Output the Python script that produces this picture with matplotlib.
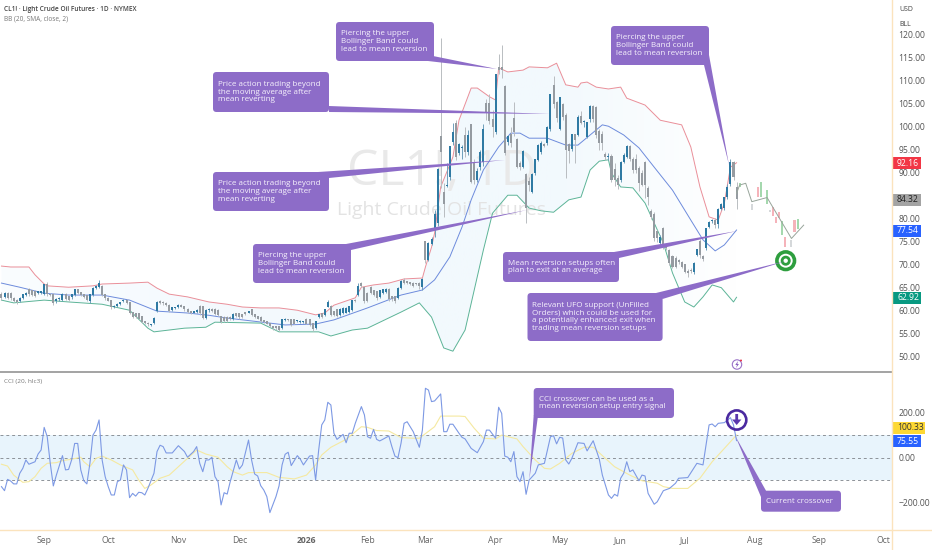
import numpy as np
import matplotlib
matplotlib.use("Agg")
import matplotlib.pyplot as plt
from matplotlib.colors import LinearSegmentedColormap
from matplotlib.patches import Circle, FancyBboxPatch, Polygon, Rectangle

plt.rcParams['font.family'] = ['Open Sans', 'DejaVu Sans']

# candles, bar 0 = late Aug 2025, one row is 10 bars
opens = [
    63.6,63.0,63.8,63.8,62.7,62.3,62.0,62.7,63.4,64.6,
    64.3,64.1,63.8,63.9,63.6,65.6,63.6,63.6,62.0,62.5,
    62.3,63.6,63.0,62.9,63.4,64.5,63.9,63.4,63.2,62.0,
    63.4,64.9,65.2,65.2,63.4,62.7,62.2,60.7,61.0,61.4,
    62.0,62.3,61.7,59.6,59.3,59.3,58.7,57.6,57.3,56.9,
    57.4,60.0,62.0,61.7,61.6,61.2,60.1,60.5,60.7,61.2,
    60.9,60.3,59.8,59.6,59.8,61.0,60.9,58.5,60.1,60.3,
    60.3,60.1,58.7,58.6,58.6,58.6,58.1,59.4,59.3,59.1,
    59.6,59.6,60.2,59.1,58.7,58.6,57.8,57.6,57.2,56.5,
    56.5,56.5,56.2,58.0,58.1,58.1,58.0,57.8,57.6,57.6,
    58.1,58.1,57.2,56.2,58.6,59.3,59.1,60.9,60.9,59.8,
    60.2,59.1,59.4,59.6,59.8,60.2,62.3,63.4,65.8,65.1,
    63.8,65.1,64.4,64.1,62.9,63.9,64.1,64.6,63.1,63.1,
    62.7,64.9,66.5,66.3,66.1,66.0,65.9,66.0,65.1,75.0,
    71.0,74.6,77.5,79.0,97.8,85.7,87.0,89.1,96.7,100.7,
    94.2,95.3,98.0,94.6,100.4,92.2,88.4,91.3,92.4,105.0,
    105.0,101.5,98.9,112.9,112.9,108.7,96.6,98.2,101.8,97.1,
    92.0,91.3,89.7,88.0,85.7,89.9,92.8,94.4,96.2,96.4,
    99.6,109.0,105.2,99.6,104.9,102.5,96.2,95.1,98.2,98.2,
    102.2,101.0,97.8,101.6,104.4,104.2,98.9,98.2,94.0,93.5,
    93.5,90.6,88.8,88.4,92.4,93.5,95.7,92.9,92.8,91.0,
    89.9,92.2,86.6,81.6,81.0,77.2,74.7,77.9,74.0,73.1,
    71.8,71.4,70.8,70.5,70.0,68.5,68.7,68.4,72.1,75.0,
    71.8,73.6,78.1,79.4,79.7,78.9,82.0,82.3,84.7,87.6,
    92.3,86.8,
]
closes = [
    62.7,63.8,62.7,62.7,62.0,61.8,62.7,63.4,63.8,63.6,
    63.4,63.2,64.1,64.1,65.6,63.6,63.4,61.6,62.5,62.7,
    63.6,62.5,62.3,63.4,64.5,63.9,63.4,63.0,62.3,63.4,
    64.9,65.2,65.9,63.4,62.7,62.2,60.7,61.0,61.4,61.7,
    62.3,61.7,59.4,58.7,58.7,58.3,57.6,57.3,57.0,57.0,
    58.3,61.7,61.7,61.6,61.2,60.0,60.7,60.7,61.2,60.9,
    60.3,59.8,59.6,59.8,60.1,59.4,58.5,60.1,60.3,60.0,
    59.3,59.1,57.6,57.8,57.8,58.1,59.2,58.9,58.6,58.7,
    59.3,59.8,59.1,58.7,58.3,57.8,57.6,57.2,56.7,56.2,
    56.2,55.8,58.0,58.1,58.0,56.9,57.2,57.8,57.7,57.6,
    57.2,56.9,56.0,57.6,59.1,58.7,60.2,61.8,59.1,59.0,
    58.9,60.3,60.5,60.5,60.9,62.2,62.1,65.2,65.4,62.0,
    62.0,63.8,63.4,62.7,64.4,64.5,64.6,62.5,62.5,62.0,
    64.9,66.3,66.0,66.0,65.8,65.4,65.7,65.4,66.8,71.0,
    74.6,75.5,80.8,90.7,94.6,83.3,87.2,95.7,98.7,93.5,
    96.2,95.4,94.6,98.1,88.0,88.4,90.2,94.4,99.4,103.0,
    101.3,100.0,111.4,112.3,112.3,94.2,97.8,96.4,98.9,91.3,
    91.2,94.7,82.3,87.3,89.5,92.8,95.8,96.4,95.8,99.9,
    106.9,104.9,101.8,106.3,102.0,94.9,94.8,98.2,97.0,102.0,
    100.9,101.1,100.9,104.4,101.6,98.2,96.4,96.4,93.5,93.6,
    88.4,88.4,87.3,92.1,93.7,95.7,92.9,90.6,90.6,87.7,
    87.3,87.3,84.8,80.3,75.8,75.8,75.8,73.9,73.6,70.3,
    69.6,69.6,70.6,69.6,68.5,68.2,68.6,70.3,73.2,72.1,
    71.3,77.9,79.2,79.7,78.7,82.0,83.1,84.5,86.8,92.1,
    89.1,84.3,
]
highs = [
    64.0,64.0,64.0,64.0,63.0,62.5,62.9,63.6,64.1,65.0,
    64.6,64.4,64.3,64.3,65.8,66.2,63.9,63.8,62.8,63.0,
    63.8,63.8,63.2,63.6,64.8,64.7,64.1,63.6,63.4,63.6,
    65.1,65.5,66.6,65.5,63.6,62.9,62.4,61.2,61.6,61.9,
    62.5,62.5,61.9,59.8,59.5,59.5,58.9,57.8,57.5,57.2,
    58.6,62.2,62.4,62.0,61.8,61.4,60.9,60.9,61.5,61.4,
    61.1,60.5,60.0,60.0,60.3,61.3,61.1,60.3,60.5,60.5,
    60.5,60.3,58.9,58.8,58.8,58.8,59.4,59.6,59.5,59.3,
    59.8,60.0,60.4,59.3,58.9,58.8,58.0,57.8,57.4,56.7,
    56.7,56.7,58.2,58.4,58.3,58.3,58.2,58.0,57.9,57.8,
    58.4,58.3,57.4,57.8,59.3,59.6,60.4,62.4,61.2,60.0,
    60.4,60.5,60.7,60.8,61.1,62.4,62.6,66.0,66.2,65.3,
    64.0,65.3,64.6,64.3,64.6,64.8,64.9,64.9,63.3,63.3,
    65.1,66.6,67.0,66.5,66.3,66.2,66.1,66.2,67.0,75.0,
    75.0,76.0,81.9,91.0,119.2,87.7,92.0,95.9,100.7,101.5,
    96.5,96.0,100.0,99.3,100.6,93.0,91.0,95.0,100.5,106.0,
    107.0,103.6,111.5,115.9,117.8,109.0,98.2,100.0,105.4,97.5,
    92.5,95.0,90.0,89.0,90.0,93.0,96.3,96.8,96.5,100.2,
    107.0,111.0,105.5,106.5,105.2,103.0,96.5,98.5,98.5,102.5,
    103.5,101.5,101.0,104.8,104.8,104.5,99.5,99.0,94.6,94.2,
    94.0,92.0,89.5,92.5,94.3,96.0,96.0,93.5,94.0,91.5,
    90.5,92.5,87.2,82.0,81.5,77.5,76.5,78.2,74.2,73.5,
    72.2,71.8,71.2,70.8,70.2,69.0,69.2,70.5,73.5,75.5,
    72.0,78.0,79.5,80.0,80.2,82.3,83.5,84.8,87.5,93.0,
    92.6,88.0,
]
lows = [
    62.4,62.8,62.5,62.4,61.8,61.5,61.8,62.5,63.2,63.3,
    63.2,62.9,63.6,63.7,63.4,63.3,63.1,61.3,61.7,62.2,
    62.0,62.3,62.0,62.6,63.2,63.7,63.2,62.7,62.0,61.6,
    63.2,64.7,65.0,63.2,62.4,62.0,60.4,60.5,60.8,61.2,
    61.8,61.5,59.2,58.4,58.4,58.1,57.4,57.0,56.7,56.6,
    57.2,59.8,61.4,61.3,61.0,59.8,59.9,60.3,60.5,60.7,
    60.0,59.5,59.3,59.4,59.6,59.1,58.2,58.3,59.8,59.7,
    59.0,58.8,57.3,57.5,57.5,57.9,57.9,58.7,58.3,58.4,
    59.0,59.4,58.9,58.5,58.1,57.5,57.3,57.0,56.4,55.9,
    55.9,55.5,56.0,57.8,57.8,56.6,57.0,57.5,57.4,57.3,
    57.0,56.6,55.6,56.0,58.4,58.4,58.9,60.7,58.8,58.8,
    58.7,58.9,59.2,59.4,59.6,60.0,61.8,63.2,65.1,61.7,
    61.8,63.6,63.2,62.4,62.7,63.7,63.9,62.2,62.2,61.7,
    62.5,64.7,65.7,65.7,65.6,65.1,65.5,64.8,64.5,70.3,
    70.8,74.3,76.1,78.5,86.6,80.4,86.8,88.4,96.0,92.8,
    93.8,93.0,93.5,93.8,87.8,87.5,88.0,90.5,91.5,101.5,
    100.5,97.8,98.5,111.5,110.5,93.8,96.0,95.5,98.0,91.0,
    90.5,91.0,79.0,86.0,85.5,89.5,92.5,94.0,95.5,96.0,
    99.0,104.0,101.0,99.3,101.5,88.8,92.0,94.8,92.0,98.0,
    100.5,100.0,97.5,101.0,101.0,97.5,95.0,95.0,92.8,92.8,
    88.0,87.0,86.5,88.0,92.0,93.2,92.5,90.0,90.0,86.0,
    87.0,84.5,83.0,80.0,75.2,75.0,74.0,73.5,73.2,70.0,
    69.2,69.3,70.2,69.3,68.2,67.4,68.2,68.0,71.8,71.5,
    70.8,73.3,77.9,79.0,78.0,78.0,81.8,81.8,84.3,87.0,
    88.5,82.0,
]

# faint projected candles right of the last bar
ghost_bars = [242, 246, 248, 249, 251, 252, 253, 254, 255, 256, 257, 259, 260, 261]
ghost_top = [87.8, 83.2, 86.8, 88.0, 86.2, 81.9, 82.6, 80.3, 81.5, 79.4, 76.1, 75.4, 79.7, 79.9]
ghost_bottom = [86.8, 81.9, 84.8, 84.8, 83.3, 81.4, 80.6, 79.0, 80.1, 76.5, 73.9, 73.9, 77.2, 77.7]
ghost_kind = ['up', 'flat', 'down', 'up', 'up', 'flat', 'down', 'down', 'down', 'up', 'down', 'flat', 'down', 'up']
ghost_line_bars = [241, 242, 244, 246, 251, 259, 263]
ghost_line = [85.5, 87.3, 87.7, 83.7, 84.6, 75.7, 78.6]

# bollinger bands, turning points only
upper_bars = [0, 3, 9, 11, 14, 15, 22, 30, 33, 42, 48, 51, 55, 61, 68, 74, 79, 85, 91, 97, 103, 106, 109, 116,
              118, 122, 127, 132, 138, 139, 141, 142, 144, 148, 150, 154, 156, 160, 162, 163, 166, 171, 173,
              179, 182, 185, 189, 190, 192, 195, 199, 203, 205, 211, 216, 223, 226, 229, 232, 235, 237, 239, 241]
upper_band = [69.7, 69.5, 69.5, 67.8, 65.8, 65.4, 65.1, 65.4, 65.8, 66.0, 66.2, 64.9, 63.6, 63.0, 61.9, 61.4,
              60.8, 60.6, 60.6, 60.1, 59.1, 59.5, 61.2, 62.8, 65.1, 65.6, 66.0, 66.9, 67.1, 69.5, 73.8, 76.9,
              86.9, 93.4, 101.4, 108.4, 108.4, 106.5, 105.8, 112.8, 111.9, 112.3, 113.0, 112.8, 113.8, 109.1,
              108.6, 109.5, 109.7, 108.6, 108.2, 108.6, 106.2, 104.7, 101.4, 100.4, 95.6, 86.9, 80.4, 79.7,
              83.4, 91.2, 92.16]
mid_bars = [0, 6, 14, 22, 33, 42, 51, 61, 68, 74, 88, 93, 103, 109, 120, 131, 138, 142, 147, 151, 154, 158, 163,
            167, 170, 173, 179, 185, 189, 197, 199, 204, 209, 214, 220, 226, 230, 234, 237, 241]
mid_band = [66.0, 65.1, 63.8, 63.4, 63.4, 62.3, 59.9, 59.5, 59.0, 58.4, 57.3, 56.9, 57.1, 58.0, 60.6, 63.4, 64.5,
            66.7, 71.7, 78.2, 84.1, 90.6, 95.6, 98.6, 98.6, 97.5, 97.5, 96.0, 96.0, 100.4, 100.1, 98.2, 95.4,
            91.2, 86.2, 79.7, 75.4, 73.0, 74.3, 77.54]
lower_bars = [0, 4, 14, 22, 33, 42, 48, 50, 60, 67, 70, 85, 91, 104, 108, 115, 120, 131, 137, 141, 145, 148, 152,
              158, 161, 166, 169, 173, 177, 181, 186, 190, 193, 196, 199, 200, 203, 207, 211, 217, 220, 224, 227,
              230, 233, 236, 240, 241]
lower_band = [62.3, 61.7, 62.3, 61.9, 61.4, 60.1, 56.2, 55.4, 56.2, 56.4, 57.5, 57.3, 55.4, 55.4, 54.5, 55.8, 56.2,
              59.7, 61.7, 58.6, 51.9, 51.2, 55.8, 73.2, 81.2, 85.1, 85.1, 82.3, 81.7, 81.4, 84.1, 84.7, 90.6, 92.5,
              92.8, 89.9, 86.9, 86.7, 83.4, 74.7, 68.2, 61.9, 60.8, 63.0, 65.6, 65.0, 61.9, 62.92]

# CCI (20, hlc3)
cci_bars = [0, 1, 2, 3, 4, 5, 6, 7, 8, 9, 11, 12, 13, 14, 15, 16, 17, 18, 20, 21, 22, 23, 24, 25, 26, 27, 28, 29,
            30, 31, 32, 33, 34, 35, 36, 37, 38, 39, 40, 41, 42, 43, 44, 45, 46, 47, 48, 50, 51, 52, 53, 54, 56, 58,
            60, 61, 63, 64, 65, 66, 67, 68, 69, 70, 71, 72, 73, 74, 75, 77, 78, 79, 81, 82, 83, 84, 85, 86, 87, 88,
            90, 91, 92, 93, 94, 95, 97, 98, 99, 101, 102, 103, 104, 105, 106, 107, 108, 109, 110, 112, 113, 114,
            115, 116, 118, 119, 120, 121, 122, 123, 124, 125, 127, 128, 129, 130, 131, 132, 133, 135, 137, 138,
            139, 140, 141, 142, 144, 145, 146, 147, 148, 150, 151, 152, 154, 156, 158, 159, 160, 162, 163, 164,
            165, 166, 167, 168, 169, 170, 171, 172, 173, 175, 176, 178, 179, 180, 181, 182, 183, 184, 185, 186,
            187, 189, 191, 192, 194, 196, 197, 199, 200, 201, 202, 203, 204, 205, 206, 207, 209, 210, 211, 212,
            214, 215, 217, 219, 221, 222, 225, 228, 230, 232, 233, 234, 235, 237, 239, 240, 241]
cci_values = [-128, -146, -96, -103, -116, -116, -69, -47, -10, -29, -18, 16, 34, 134, 93, -25, -125, -77, 9, -54,
              -52, -10, 63, 63, -54, -102, -116, -25, 100, 122, 167, -10, -84, -128, -165, -165, -106, -99, -32,
              -54, -177, -158, -170, -153, -155, -165, -136, -69, 27, 55, 49, 21, 21, 53, 27, 2, 27, 49, -25, -62,
              -10, -10, 2, -84, -106, -209, -155, -161, -106, -10, -50, -32, 78, -10, -72, -81, -124, -143, -172,
              -243, -172, -125, -32, 15, 24, -35, 9, -7, -32, 7, 9, -99, 34, 145, 167, 245, 233, 108, 81, 103, 66,
              108, 108, 152, 226, 189, 93, 86, 125, 81, 74, 81, 96, 49, 7, 0, 64, 152, 159, 115, 46, 122, 307, 299,
              248, 251, 282, 115, 115, 148, 148, 108, 90, 83, 41, 22, 71, 122, 122, 86, 223, 196, 7, 2, -18, 27,
              -84, -106, -62, -162, -99, -69, -32, -25, 34, 93, 97, 61, 90, 87, -10, -28, -3, 66, 63, 30, 75, -7,
              -77, -165, -180, -162, -170, -91, -69, -18, -62, -54, -102, -77, -81, -158, -206, -195, -146, -136,
              -113, -91, -88, -25, -32, 145, 149, 137, 152, 155, 177, 145, 75.55]
signal_bars = [0, 2, 4, 7, 9, 11, 13, 15, 18, 20, 23, 26, 27, 29, 31, 33, 36, 39, 43, 45, 47, 49, 52, 55, 58, 61,
               64, 67, 71, 74, 76, 79, 81, 87, 91, 96, 100, 103, 105, 108, 113, 118, 120, 123, 127, 131, 135, 137,
               142, 144, 150, 152, 155, 158, 162, 164, 169, 171, 175, 178, 180, 183, 187, 191, 194, 198, 201, 206,
               210, 215, 217, 220, 225, 229, 233, 237, 241]
signal_values = [-29, -37, -77, -109, -106, -84, -47, -25, -22, -13, -7, 2, -18, -40, -3, 7, -10, -32, -54, -99,
                 -136, -121, -91, -77, -40, -3, 34, 16, 2, -40, -62, -77, -66, -66, -87, -94, -77, -32, 12, 46, 81,
                 137, 134, 120, 118, 89, 86, 86, 137, 184, 184, 182, 130, 86, 83, 100, 83, 49, -10, -47, -50, -25,
                 19, 46, 46, -3, -40, -77, -102, -113, -128, -136, -136, -91, -18, 41, 100.33]

# 85.00 sits behind the last price tag in the reference
price_ticks = [50, 55, 60, 65, 70, 75, 80, 90, 95, 100, 105, 110, 115, 120]
cci_ticks = [-200, 0, 200]
cci_tick_labels = ['\u2212200.00', '0.00', '200.00']
month_bars = [14, 35, 58, 78, 100, 120, 139, 162, 183, 203, 224, 247, 268, 289]
month_labels = ['Sep', 'Oct', 'Nov', 'Dec', '2026', 'Feb', 'Mar', 'Apr', 'May', 'Jun', 'Jul', 'Aug', 'Sep', 'Oct']

PURPLE = '#8d6cc8'
UP = '#2f7aa3'
DOWN = '#959ba1'
W, H = 932, 550


def pane(top, bottom):
    # axes box from pixel rows
    return [0, 1 - bottom / H, 891.5 / W, (bottom - top) / H]


fig = plt.figure(figsize=(W / 100, H / 100), dpi=100, facecolor='white')
ax = fig.add_axes(pane(0, 371))
ax2 = fig.add_axes(pane(372, 529.5))

# watermark, sits over the band fill but under the candles
ax.text(0.4955, 0.535, 'CL1!, 1D', transform=ax.transAxes, ha='center', va='center',
        fontsize=36, color='#e9e9e9', zorder=1.5)
ax.text(0.4955, 0.435, 'Light Crude Oil Futures', transform=ax.transAxes, ha='center', va='center',
        fontsize=14, color='#e3e3e3', zorder=1.5)

# band fill, fades out towards the last bar
band_x = np.r_[upper_bars, lower_bars[::-1]]
band_y = np.r_[upper_band, lower_band[::-1]]
band_poly = Polygon(np.c_[band_x, band_y], closed=True, facecolor='none', edgecolor='none')
ax.add_patch(band_poly)
fade = LinearSegmentedColormap.from_list('fade', ['#fafdff', '#f5fafe', '#f2f9fd', '#f2f9fd', '#ffffff'])
img = ax.imshow(np.linspace(0, 1, 256)[None, :], extent=(0, 241, 40, 130), aspect='auto', cmap=fade, zorder=1)
img.set_clip_path(band_poly)

ax.plot(upper_bars, upper_band, color='#ea8f99', lw=0.7, zorder=2)
ax.plot(mid_bars, mid_band, color='#6d8bdc', lw=0.7, zorder=2)
ax.plot(lower_bars, lower_band, color='#5cb497', lw=0.7, zorder=2)

# candles
bars = np.arange(len(closes))
o = np.array(opens)
c = np.array(closes)
colors = np.where(c >= o, UP, DOWN)
ax.vlines(bars, lows, highs, colors=np.where(c >= o, '#6f9fba', '#b9bdc1'), lw=0.7, zorder=3)
ax.bar(bars, np.abs(c - o) + 0.12, bottom=np.minimum(o, c), width=0.66, color=colors, lw=0, zorder=4)

ghost_col = {'up': '#a5d8ae', 'down': '#f5b3ba', 'flat': '#d5d8da'}
ax.bar(ghost_bars, np.array(ghost_top) - np.array(ghost_bottom), bottom=ghost_bottom, width=0.66,
       color=[ghost_col[k] for k in ghost_kind], lw=0, zorder=4)
ax.plot(ghost_line_bars, ghost_line, color='#98a59b', lw=0.7, zorder=5)

ax.set_ylim(46.89, 127.54)
ax.set_yticks(price_ticks)
ax.set_yticklabels([f'{p:.2f}' for p in price_ticks])

# CCI pane
ax2.axhspan(-100, 100, color='#e8f4fc', lw=0, zorder=0)
for lev in (-100, 0, 100):
    ax2.axhline(lev, color='#8d9298', lw=0.7, dashes=(3, 3), zorder=1)
ax2.plot(signal_bars, signal_values, color='#f5e9a0', lw=0.8, zorder=2)
ax2.plot(cci_bars, cci_values, color='#7d99e4', lw=0.8, zorder=3)
ax2.set_ylim(-317.7, 379)
ax2.set_yticks(cci_ticks)
ax2.set_yticklabels(cci_tick_labels)

for a in (ax, ax2):
    a.set_xlim(-0.48, 291.8)
    a.yaxis.tick_right()
    a.tick_params(axis='y', length=0, pad=5, labelsize=6.2, labelcolor='#555555')
    for s in a.spines.values():
        s.set_visible(False)
ax.set_xticks([])
ax2.set_xticks(month_bars)
ax2.set_xticklabels(month_labels)
ax2.tick_params(axis='x', length=0, pad=5, labelsize=6.2, labelcolor='#666666')
ax2.get_xticklabels()[4].set_fontweight('bold')

# overlay in picture pixels for the drawing tools
ov = fig.add_axes([0, 0, 1, 1], facecolor='none', zorder=10)
ov.set_xlim(0, W)
ov.set_ylim(H, 0)
ov.axis('off')

ov.plot([0, 891.5], [371.5, 371.5], color='#8a8a8a', lw=1.1)
ov.plot([891.5, 891.5], [0, H], color='#fbe3bd', lw=1.0)
ov.plot([0, W], [529.5, 529.5], color='#fbe3bd', lw=1.0)
ov.add_patch(Rectangle((892.5, 0), 40, 30, facecolor='white', edgecolor='none'))

ov.text(4, 9.5, 'CL1! \u00b7 Light Crude Oil Futures \u00b7 1D \u00b7 NYMEX', fontsize=4.7, color='#444444',
        va='center', fontweight='semibold')
ov.text(4, 19.5, 'BB (20, SMA, close, 2)', fontsize=4.7, color='#777777', va='center')
ov.text(4, 382, 'CCI (20, hlc3)', fontsize=4.6, color='#777777', va='center')
ov.text(899, 9.5, 'USD', fontsize=5, color='#444444', va='center')
ov.text(899, 24.5, 'BLL', fontsize=5, color='#444444', va='center')


def tag(y, text, color, fg='white', right=921):
    ov.add_patch(Rectangle((892.5, y - 6), right - 892.5, 12, facecolor=color, edgecolor='none'))
    ov.text(897, y, text, fontsize=6.2, color=fg, va='center')


tag(163, '92.16', '#f23645')
tag(199.5, '84.32', '#a3a3a3', '#222222')
tag(230.5, '77.54', '#2962ff')
tag(298, '62.92', '#089981')
tag(427.5, '100.33', '#fdd835', '#333333', 925)
tag(441, '75.55', '#2962ff', 'white', 921)

# target ring
ov.add_patch(Circle((785.7, 260.7), 8.8, fill=False, edgecolor='#2e9e3e', lw=2.6))
ov.add_patch(Circle((785.7, 260.7), 3.6, fill=False, edgecolor='#2e9e3e', lw=2.0))


def callout(x0, y0, x1, y1, text, tail):
    ov.add_patch(Polygon(tail, closed=True, facecolor=PURPLE, edgecolor='none'))
    r = 3.5
    ov.add_patch(FancyBboxPatch((x0 + r, y0 + r), x1 - x0 - 2 * r, y1 - y0 - 2 * r,
                                boxstyle=f'round,pad={r},rounding_size={r}', facecolor=PURPLE, edgecolor='none'))
    ov.text(x0 + 5, (y0 + y1) / 2, text, color='#f6f2fc', fontsize=5.8, va='center', ha='left', linespacing=1.12)


pierce = 'Piercing the upper\nBollinger Band could\nlead to mean reversion'
beyond = 'Price action trading beyond\nthe moving average after\nmean reverting'
callout(336, 22, 434, 61, pierce, [(433, 56), (428, 61), (497, 69)])
callout(213, 72, 329, 112, beyond, [(329, 106), (329, 112), (550, 114)])
callout(213, 172, 329, 211, beyond, [(318, 172), (329, 178), (505, 160)])
callout(253, 244, 351, 283, pierce, [(346, 244), (351, 250), (527, 210)])
callout(611, 26, 709, 65, pierce, [(704, 65), (709, 55), (729, 165)])
callout(503, 252, 619, 282, 'Mean reversion setups often\nplan to exit at an average',
        [(614, 252), (619, 258), (737, 231)])
callout(527.5, 293, 662.6, 341,
        'Relevant UFO support (UnFilled\nOrders) which could be used for\n'
        'a potentially enhanced exit when\ntrading mean reversion setups',
        [(656, 293), (662.6, 299), (786, 261)])
callout(533.7, 388, 674, 418, 'CCI crossover can be used as a\nmean reversion setup entry signal',
        [(533.7, 415), (537.7, 418), (529.3, 480)])
callout(761, 490.7, 841, 511.7, 'Current crossover', [(761, 497), (766, 490.7), (735.3, 436)])

# crossover arrow in a ring
ov.add_patch(Circle((736.7, 420), 9.6, facecolor='none', edgecolor='#4b2aa0', lw=1.9))
ov.add_patch(Polygon([(735.3, 414), (738.1, 414), (738.1, 419.5), (741.4, 419.5), (736.7, 425), (732, 419.5),
                      (735.3, 419.5)], closed=True, facecolor='#5a37ad', edgecolor='none'))

# lightning badge
ov.add_patch(Circle((737, 364.5), 4.7, fill=False, edgecolor='#9a72c8', lw=0.8))
ov.add_patch(Polygon([(738, 361), (735.3, 365), (737, 365), (736, 368), (738.9, 364), (737.3, 364)],
                     closed=True, facecolor='#8a5fc0', edgecolor='none'))
ov.add_patch(Circle((741, 360.5), 1, facecolor='#e8344a', edgecolor='none'))

fig.savefig('out.png', dpi=100)
